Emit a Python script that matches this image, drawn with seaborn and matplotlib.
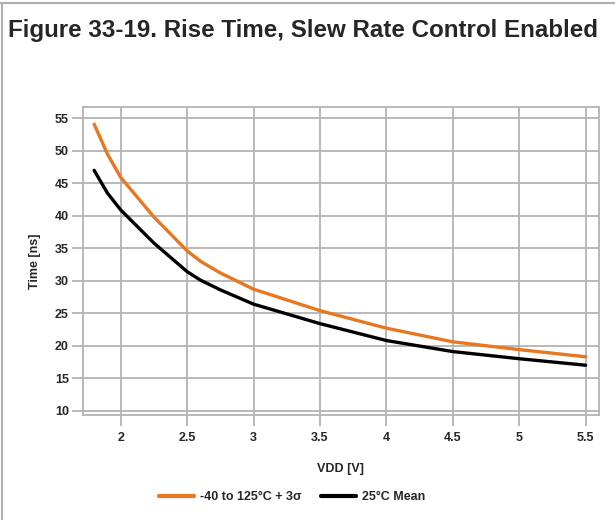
import matplotlib
matplotlib.use("Agg")
import matplotlib.pyplot as plt
import seaborn as sns
import pandas as pd
from matplotlib.lines import Line2D

sns.set_theme(style="white")
plt.rcParams['font.family'] = ['Liberation Sans', 'DejaVu Sans']

vdd = [1.8, 1.9, 2.0, 2.25, 2.5, 2.6, 2.75, 3.0, 3.5, 4.0, 4.5, 5.0, 5.5]
hot_3sigma = [54.1, 49.5, 45.9, 39.8, 34.6, 33.0, 31.2, 28.7, 25.4, 22.7, 20.6, 19.4, 18.3]
mean_25c = [47.0, 43.5, 40.9, 35.8, 31.4, 30.1, 28.6, 26.4, 23.4, 20.8, 19.1, 18.0, 17.0]
series_names = ["-40 to 125°C + 3σ", "25°C Mean"]
series_colors = ["#E87722", "#000000"]
x_ticks = [2, 2.5, 3, 3.5, 4, 4.5, 5, 5.5]
x_tick_labels = ["2", "2.5", "3", "3.5", "4", "4.5", "5", "5.5"]
y_ticks = [10, 15, 20, 25, 30, 35, 40, 45, 50, 55]

df = pd.concat([
    pd.DataFrame({"VDD": vdd, "Time": hot_3sigma, "Series": series_names[0]}),
    pd.DataFrame({"VDD": vdd, "Time": mean_25c, "Series": series_names[1]}),
])

fig = plt.figure(figsize=(6.15, 5.2), dpi=100)
W, H = 615, 520
ax = fig.add_axes([82.7 / W, 1 - 415 / H, (599 - 82.7) / W, (415 - 107) / H])

sns.lineplot(data=df, x="VDD", y="Time", hue="Series", palette=series_colors,
             hue_order=series_names, linewidth=2.4, ax=ax, legend=False,
             sort=False, estimator=None)

ax.set_xlim(1.714, 5.6)
ax.set_ylim(9.34, 56.74)
ax.set_xticks(x_ticks)
ax.set_xticklabels(x_tick_labels)
ax.set_yticks(y_ticks)
grid_c = "#B3B3B3"
ax.grid(True, color=grid_c, linewidth=1.3)
ax.set_axisbelow(True)
for s in ax.spines.values():
    s.set_color(grid_c)
    s.set_linewidth(1.3)
ax.tick_params(axis="both", which="major", length=8, width=1.3, color=grid_c,
               labelsize=9, direction="out", bottom=True, left=True)
ax.tick_params(axis="y", pad=2)
ax.tick_params(axis="x", pad=4)
for lab in ax.get_xticklabels() + ax.get_yticklabels():
    lab.set_fontweight("bold")
ax.set_xlabel("VDD [V]", fontsize=9, fontweight="bold", labelpad=14)
ax.set_ylabel("Time [ns]", fontsize=9, fontweight="bold", labelpad=10)

handles = [Line2D([0], [0], color=c, linewidth=3) for c in series_colors]
fig.legend(handles, series_names, loc="center", bbox_to_anchor=(292 / W, 1 - 497 / H),
           ncol=2, frameon=False, prop={"size": 9, "weight": "bold"},
           handlelength=2.8, columnspacing=1.5, handletextpad=0.5)

fig.text(8 / W, 1 - 30 / H, "Figure 33-19. Rise Time, Slew Rate Control Enabled",
         fontsize=17.4, fontweight="bold", ha="left", va="center")

# figure border (top and left)
fig.add_artist(Line2D([0, 1], [1 - 3 / H, 1 - 3 / H], color="#B0B0B0", linewidth=1.5,
                      transform=fig.transFigure))
fig.add_artist(Line2D([1.5 / W, 1.5 / W], [0, 1 - 3 / H], color="#B0B0B0", linewidth=1.5,
                      transform=fig.transFigure))

fig.savefig("out.png", dpi=100)
